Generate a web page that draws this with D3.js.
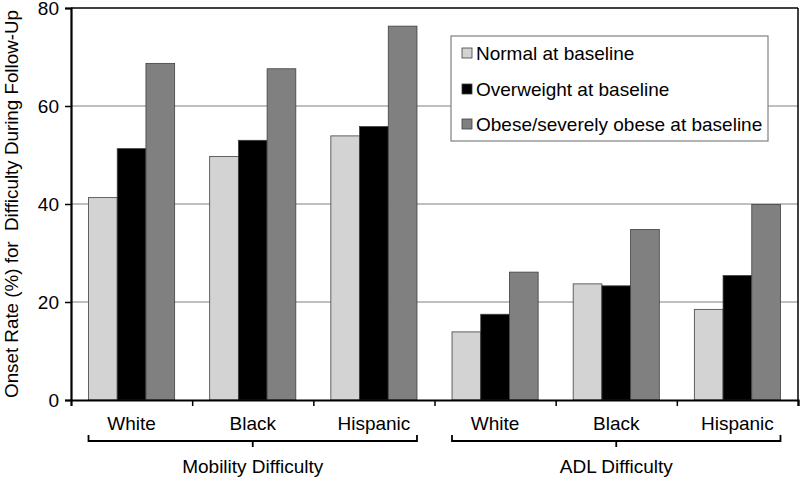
<!DOCTYPE html>
<html><head><meta charset="utf-8">
<script src="https://cdn.jsdelivr.net/npm/d3@7"></script>
<style>body{margin:0;background:#fff}text{font-family:"Liberation Sans",Arial,sans-serif;fill:#000}</style>
</head><body><svg id="c" width="800" height="478"></svg>
<script>
const categories = ["White","Black","Hispanic","White","Black","Hispanic"];
const groups = ["Mobility Difficulty","ADL Difficulty"];
const seriesNames = ["Normal at baseline","Overweight at baseline","Obese/severely obese at baseline"];
const normal = [41.3, 49.7, 53.9, 13.9, 23.7, 18.5];
const overweight = [51.3, 53.0, 55.8, 17.5, 23.3, 25.4];
const obese = [68.7, 67.6, 76.3, 26.1, 34.8, 39.9];
const yTicks = [0,20,40,60,80];
const colors = ["#d3d3d3","#000000","#808080"];

const svg = d3.select("#c");
const L=71, R=798, T=8, B=400;
const x = d3.scaleBand().domain(d3.range(categories.length)).range([L,R]).paddingInner(0).paddingOuter(0);
const xs = d3.scaleBand().domain([0,1,2]).range([0,x.bandwidth()]).paddingInner(0).paddingOuter(0.61);
const y = d3.scaleLinear().domain([0,80]).range([B,T]);
const series=[normal,overweight,obese];

// gridlines
svg.append("g").selectAll("line").data(yTicks.filter(t=>t>0&&t<80)).join("line")
  .attr("x1",L).attr("x2",R).attr("y1",d=>y(d)).attr("y2",d=>y(d))
  .attr("stroke","#808080").attr("stroke-width",1);

// bars
series.forEach((s,si)=>{
  svg.append("g").selectAll("rect").data(s).join("rect")
   .attr("x",(d,i)=>x(i)+xs(si)).attr("width",xs.bandwidth())
   .attr("y",d=>y(d)).attr("height",d=>B-y(d))
   .attr("fill",colors[si]).attr("stroke","#404040").attr("stroke-width",0.8);
});

// frame
svg.append("line").attr("x1",L).attr("x2",R).attr("y1",T).attr("y2",T).attr("stroke","#000").attr("stroke-width",1.5);
svg.append("line").attr("x1",R).attr("x2",R).attr("y1",T).attr("y2",B).attr("stroke","#000").attr("stroke-width",1.5);

// y axis
const ya = svg.append("g").attr("transform",`translate(${L},0)`)
  .call(d3.axisLeft(y).tickValues(yTicks).tickSize(6).tickPadding(6));
ya.select(".domain").attr("stroke","#000").attr("stroke-width",2.2);
ya.selectAll(".tick line").attr("stroke","#000").attr("stroke-width",1.5);
ya.selectAll("text").style("font-size","19px").attr("font-family","Liberation Sans, Arial, sans-serif").attr("fill","#000");

// x axis
const xa = svg.append("g").attr("transform",`translate(0,${B})`)
  .call(d3.axisBottom(d3.scaleLinear().domain([0,6]).range([L,R])).tickValues(d3.range(1,7)).tickSize(6).tickFormat(""));
xa.select(".domain").attr("stroke","#000").attr("stroke-width",2.2);
xa.selectAll(".tick line").attr("stroke","#000").attr("stroke-width",1.5);

// category labels
svg.append("g").selectAll("text").data(categories).join("text")
  .attr("x",(d,i)=>x(i)+x.bandwidth()/2).attr("y",430)
  .attr("text-anchor","middle").style("font-size","19px").text(d=>d);

// brackets
groups.forEach((g,gi)=>{
  const x0 = x(gi*3)+xs(0), x1 = x(gi*3+2)+xs(2)+xs.bandwidth();
  const cx=(x0+x1)/2;
  svg.append("path").attr("d",`M${x0},435 V441 H${x1} V435 M${cx},441 V447`)
    .attr("fill","none").attr("stroke","#000").attr("stroke-width",1.8);
  svg.append("text").attr("x",cx).attr("y",473).attr("text-anchor","middle").style("font-size","19px").text(g);
});

// y title
svg.append("text").attr("transform","translate(18,204) rotate(-90)").attr("text-anchor","middle")
  .style("font-size","18.8px").style("white-space","pre").text("Onset Rate (%) for  Difficulty During Follow-Up");

// legend
const lg = svg.append("g");
lg.append("rect").attr("x",451).attr("y",36).attr("width",317).attr("height",105).attr("fill","#fff").attr("stroke","#808080").attr("stroke-width",1.2);
seriesNames.forEach((n,i)=>{
  const cy=[53,89,124][i];
  lg.append("rect").attr("x",462).attr("y",cy-5).attr("width",10).attr("height",10).attr("fill",colors[i]).attr("stroke","#404040").attr("stroke-width",0.8);
  lg.append("text").attr("x",476).attr("y",cy+6.5).style("font-size","19px").text(n);
});
</script></body></html>
